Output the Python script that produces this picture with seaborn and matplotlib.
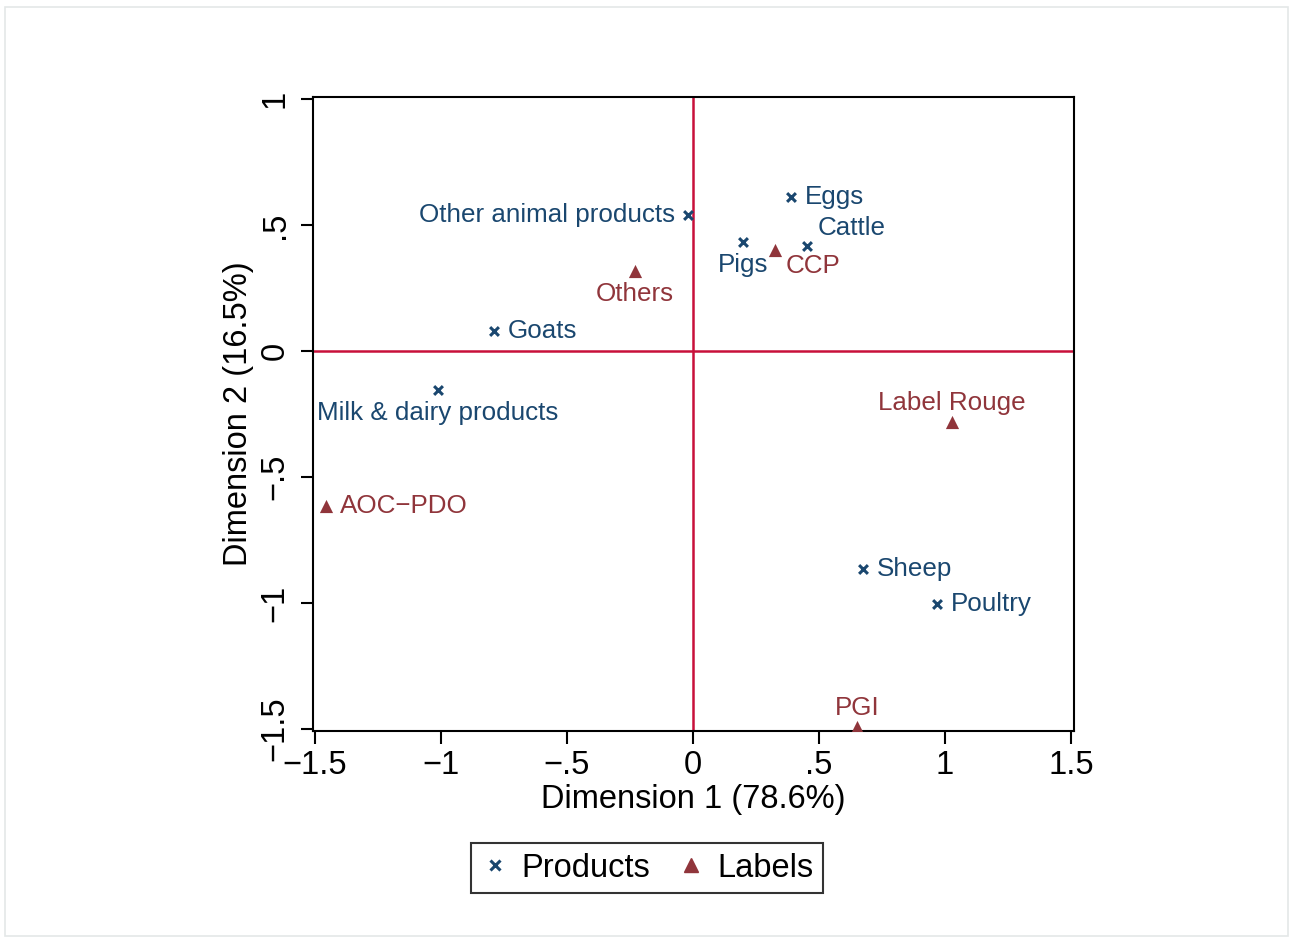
import matplotlib
matplotlib.use("Agg")
import matplotlib.pyplot as plt
import seaborn as sns
import pandas as pd
from matplotlib.patches import Rectangle
from matplotlib.lines import Line2D

# ---- data ----
product_names = ["Other animal products", "Eggs", "Pigs", "Cattle", "Goats",
                 "Milk & dairy products", "Sheep", "Poultry"]
product_dim1 = [-0.02, 0.389, 0.198, 0.452, -0.79, -1.012, 0.675, 0.968]
product_dim2 = [0.54, 0.611, 0.433, 0.417, 0.079, -0.155, -0.865, -1.004]

label_names = ["CCP", "Others", "AOC\u2212PDO", "Label Rouge", "PGI"]
label_dim1 = [0.325, -0.23, -1.456, 1.028, 0.651]
label_dim2 = [0.40, 0.317, -0.615, -0.282, -1.492]

x_ticks = [-1.5, -1, -0.5, 0, 0.5, 1, 1.5]
x_ticklabels = ["\u22121.5", "\u22121", "\u2212.5", "0", ".5", "1", "1.5"]
y_ticks = [-1.5, -1, -0.5, 0, 0.5, 1]
y_ticklabels = ["\u22121.5", "\u22121", "\u2212.5", "0", ".5", "1"]

# label positions (clock style), separate from data
product_pos = [9, 3, 6, 1, 3, 6, 3, 3]
label_pos = [4, 6, 3, 12, 12]

BLUE = "#1a476f"
RED = "#90353b"
REFLINE = "#c8103a"

products = pd.DataFrame({"dim1": product_dim1, "dim2": product_dim2, "name": product_names})
labels = pd.DataFrame({"dim1": label_dim1, "dim2": label_dim2, "name": label_names})

sns.set_theme(style="white")
plt.rcParams["font.family"] = ["Liberation Sans", "DejaVu Sans"]
plt.rcParams["text.color"] = "black"
plt.rcParams["axes.labelcolor"] = "black"
plt.rcParams["xtick.color"] = "black"
plt.rcParams["ytick.color"] = "black"

fig = plt.figure(figsize=(12.9, 9.38), dpi=100)
ax = fig.add_axes([313 / 1290, 207 / 938, 761 / 1290, 634 / 938])

ax.axhline(0, color=REFLINE, lw=1.8, zorder=1)
ax.axvline(0, color=REFLINE, lw=1.8, zorder=1)

sns.scatterplot(data=products, x="dim1", y="dim2", color=BLUE, marker="x",
                s=40, linewidth=2.2, ax=ax, zorder=3, legend=False)
sns.scatterplot(data=labels, x="dim1", y="dim2", color=RED, marker="^",
                s=90, linewidth=0, ax=ax, zorder=3, legend=False)


def place(x, y, text, pos, color):
    if pos == 3:
        off, ha, va = (10, 0), "left", "center"
    elif pos == 9:
        off, ha, va = (-9, 0), "right", "center"
    elif pos == 12:
        off, ha, va = (0, 5), "center", "bottom"
    elif pos == 6:
        off, ha, va = (0, -8), "center", "top"
    elif pos == 1:
        off, ha, va = (8, 4), "left", "bottom"
    elif pos == 4:
        off, ha, va = (8, -3), "left", "top"
    else:
        off, ha, va = (0, 0), "center", "center"
    ax.annotate(text, (x, y), xytext=off, textcoords="offset points",
                ha=ha, va=va, color=color, fontsize=18.7, zorder=4)


for n, x, y, p in zip(product_names, product_dim1, product_dim2, product_pos):
    place(x, y, n, p, BLUE)
for n, x, y, p in zip(label_names, label_dim1, label_dim2, label_pos):
    place(x, y, n, p, RED)

ax.set_xlim(-1.508, 1.512)
ax.set_ylim(-1.508, 1.008)
ax.set_xticks(x_ticks)
ax.set_xticklabels(x_ticklabels, fontsize=23.5)
ax.set_yticks(y_ticks)
ax.set_yticklabels(y_ticklabels, fontsize=23.5, rotation=90, va="center")
ax.tick_params(axis="both", direction="out", length=9, width=1.5, color="black",
               labelcolor="black", bottom=True, left=True)
ax.tick_params(axis="x", pad=5)
ax.tick_params(axis="y", pad=7)
for s in ax.spines.values():
    s.set_color("black")
    s.set_linewidth(1.5)
ax.set_xlabel("Dimension 1 (78.6%)", fontsize=23.5, labelpad=2, color="black")
ax.set_ylabel("Dimension 2 (16.5%)", fontsize=23.5, labelpad=4, color="black")

handles = [
    Line2D([], [], marker="x", color=BLUE, linestyle="none", markersize=7, markeredgewidth=2.2),
    Line2D([], [], marker="^", color=RED, linestyle="none", markersize=10),
]
leg = fig.legend(handles, ["Products", "Labels"], loc="center",
                 bbox_to_anchor=(647 / 1290, 1 - 868 / 938), ncol=2,
                 fontsize=23.5, frameon=True, fancybox=False, edgecolor="black",
                 handletextpad=0.35, columnspacing=0.8, borderpad=0.3,
                 borderaxespad=0, handlelength=0.9)
leg.get_frame().set_linewidth(1.5)
for t in leg.get_texts():
    t.set_color("black")

fig.patches.append(Rectangle((5 / 1290, 2 / 938), 1283 / 1290, 929 / 938,
                             transform=fig.transFigure, fill=False,
                             edgecolor="#e4e8e8", linewidth=1.2))

fig.savefig("out.png", dpi=100, facecolor="white")
